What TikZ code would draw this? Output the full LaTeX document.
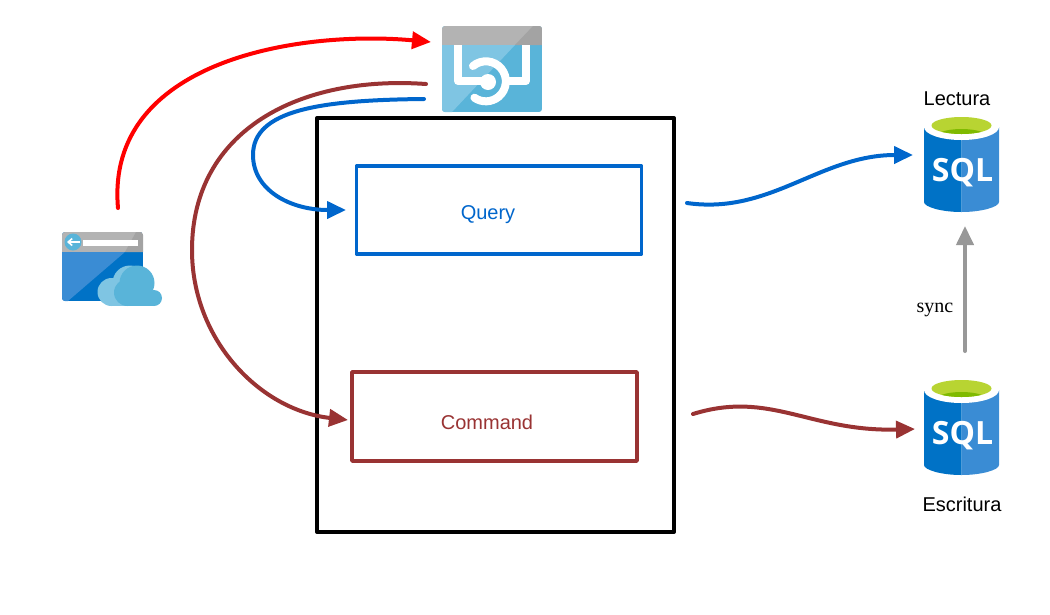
\documentclass[tikz,border=0pt]{standalone}
\usepackage{fontspec}
\setmainfont{Liberation Sans}
\newfontfamily\serifface{Liberation Serif}
\newfontfamily\sqlface{Open Sans}
\usetikzlibrary{arrows.meta}
\definecolor{qblue}{HTML}{0066CC}
\definecolor{cbrown}{HTML}{993333}
\definecolor{sqldark}{HTML}{0072C6}
\definecolor{sqllight}{HTML}{3A8CD4}
\definecolor{skyblue}{HTML}{59B4D9}
\definecolor{skylight}{HTML}{7FC5E3}
\definecolor{headgray}{HTML}{B3B3B3}
\definecolor{headdark}{HTML}{A3A3A3}
\definecolor{limeg}{HTML}{B8D432}
\definecolor{limed}{HTML}{7FBA00}
\tikzset{
  lbl/.style={font=\fontsize{20}{24}\selectfont,inner sep=0pt},
  wire/.style={line width=4pt,-{Triangle[length=19pt,width=17pt]},line cap=round},
  panel/.style={draw,line width=3.5pt,line join=round,fill=white},
  iconspot/.style={inner sep=0pt,outer sep=0pt},
}
\newcommand{\sqlicon}[2]{%
 \begin{scope}[shift={(#1,#2)}]
  \fill[sqldark] (-37.5,10) -- (-37.5,85) .. controls (-37.5,90) and (-20,95) .. (0,95) -- (0,10) -- cycle;
  \fill[sqllight] (0,10) -- (37.5,10) -- (37.5,85) .. controls (37.5,90) and (20,95) .. (0,95) -- cycle;
  \fill[white] (0,10) ellipse [x radius=37.5,y radius=13];
  \fill[limeg] (0,8.5) ellipse [x radius=30,y radius=8.5];
  \begin{scope}
   \clip (0,8.5) ellipse [x radius=30,y radius=8.5];
   \fill[limed] (0,20) ellipse [x radius=26,y radius=8];
  \end{scope}
  \node[text=white,inner sep=0pt,font=\sqlface\bfseries\fontsize{32}{32}\selectfont] at (1,56) {SQL};
 \end{scope}}
\begin{document}
\begin{tikzpicture}[x=1pt,y=-1pt]
\useasboundingbox (0,0) rectangle (1050,614);
% gateway icon
\node[iconspot,minimum width=100pt,minimum height=86pt] (gateway) at (492,69) {};
\begin{scope}
 \clip[rounded corners=3pt] (442,26) rectangle (542,112);
 \fill[skyblue] (442,26) rectangle (542,112);
 \fill[skylight] (442,45) -- (515,45) -- (452,112) -- (442,112) -- cycle;
 \fill[headgray] (442,26) rectangle (542,45);
 \fill[headdark] (515,45) -- (533,26) -- (542,26) -- (542,45) -- cycle;
\end{scope}
\draw[white,line width=8pt,line join=round] (458,45) -- (458,81) -- (488,81);
\draw[white,line width=8pt,line join=round] (526,45) -- (526,81) -- (505,81);
\draw[white,line width=8pt,line cap=round] (473,66) arc[start angle=-130,end angle=125,radius=20];
\fill[white] (488,82) circle (8);
% client icon
\node[iconspot,minimum width=100pt,minimum height=74pt] (client) at (112,269) {};
\begin{scope}
 \clip[rounded corners=3pt] (62,232) rectangle (143,301);
 \fill[sqldark] (62,232) rectangle (143,301);
 \fill[sqllight] (62,252) -- (125,252) -- (68,301) -- (62,301) -- cycle;
 \fill[headgray] (62,232) rectangle (143,252);
 \fill[headdark] (125,252) -- (136,232) -- (143,232) -- (143,252) -- cycle;
\end{scope}
\fill[skyblue] (73,242) circle (8.5);
\fill[white] (83,240) rectangle (138,246);
\draw[white,line width=1.6pt,-{Straight Barb[length=4pt,width=7pt]}] (80,242) -- (67,242);
\fill[skylight] (111.5,292) circle (14);
\fill[skylight] (130,283) circle (17.5);
\fill[skylight] (111.5,290) rectangle (130,306);
\fill[skyblue] (127.5,292.5) circle (13.5);
\fill[skyblue] (137,283) circle (17.5);
\fill[skyblue] (154,298) circle (8);
\fill[skyblue] (127.5,292) rectangle (154,306);
% main frame and panels
\node[panel,draw=black,line width=4pt,minimum width=357pt,minimum height=414pt,inner sep=0pt] (frame) at (495.5,325) {};
\node[panel,draw=qblue,minimum width=285pt,minimum height=88pt,inner sep=0pt] (query) at (499,210) {};
\node[lbl,text=qblue] (querytext) at (488,215) {Query};
\node[panel,draw=cbrown,minimum width=285pt,minimum height=89pt,inner sep=0pt] (command) at (494.5,416.5) {};
\node[lbl,text=cbrown] (commandtext) at (487,422) {Command};
% databases
\node[iconspot,minimum width=75pt,minimum height=95pt] (readdb) at (961.5,164) {};
\node[iconspot,minimum width=75pt,minimum height=95pt] (writedb) at (961.5,427) {};
\sqlicon{961.5}{117}
\sqlicon{961.5}{380}
\node[lbl] (readlabel) at (957,98.5) {Lectura};
\node[lbl] (writelabel) at (962,504) {Escritura};
\node[lbl,font=\serifface\fontsize{20}{24}\selectfont] (synclabel) at (935,310) {sync};
% connector ends
\coordinate (redstart) at (118,208);
\coordinate (redend) at (431,42);
\coordinate (bluestart) at (424,99);
\coordinate (bluemid) at (253,155);
\coordinate (blueend) at (346,210);
\coordinate (brownstart) at (426,84);
\coordinate (brownmid) at (192,250);
\coordinate (brownend) at (348,420);
\coordinate (qstart) at (687,203);
\coordinate (qend) at (913,155);
\coordinate (cstart) at (693,414);
\coordinate (cend) at (915,429);
\coordinate (syncstart) at (965,351);
\coordinate (syncend) at (965,226);
% connectors
\draw[wire,draw=red] (redstart) .. controls (105,60) and (300,30) .. (redend);
\draw[wire,draw=qblue] (bluestart) .. controls (320,100) and (253,110) .. (bluemid) .. controls (253,190) and (290,210) .. (blueend);
\draw[wire,draw=cbrown] (brownstart) .. controls (300,75) and (192,130) .. (brownmid) .. controls (192,340) and (260,410) .. (brownend);
\draw[wire,draw=qblue] (qstart) .. controls (770,215) and (820,155) .. (qend);
\draw[wire,draw=cbrown] (cstart) .. controls (770,390) and (810,432) .. (cend);
\draw[wire,draw=headgray!85!black] (syncstart) -- (syncend);
\end{tikzpicture}
\end{document}
